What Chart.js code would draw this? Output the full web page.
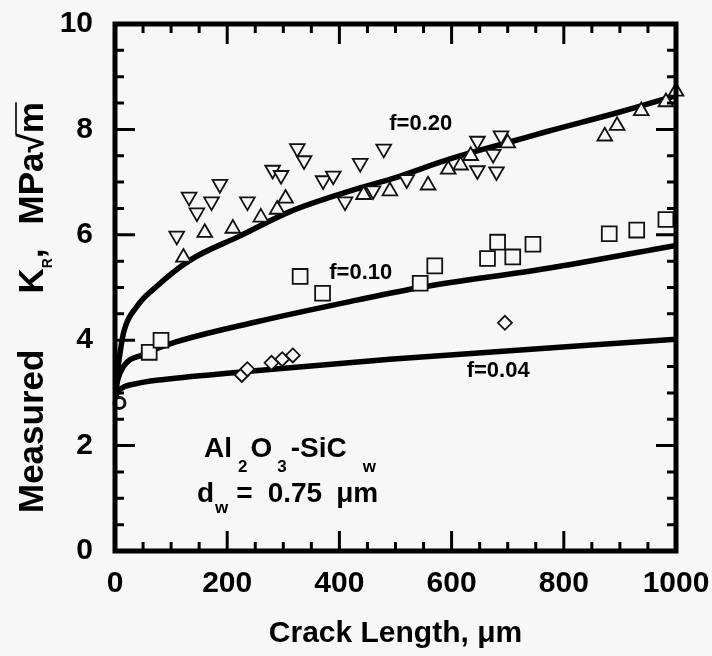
<!DOCTYPE html>
<html>
<head>
<meta charset="utf-8">
<script src="https://cdn.jsdelivr.net/npm/chart.js@4.4.1/dist/chart.umd.min.js"></script>
<style>
  html, body { margin: 0; padding: 0; background: #f7f7f7; }
  #wrap { width: 712px; height: 656px; position: relative; }
</style>
</head>
<body>
<div id="wrap"><canvas id="krChart"></canvas></div>
<script>
"use strict";

// f=0.20 data, upward triangles
const upTriX = [122, 160, 210, 260, 289, 304, 443, 490, 558, 594, 616, 634, 700, 873, 895, 938, 982, 1000];
const upTriY = [5.57, 6.04, 6.12, 6.33, 6.48, 6.69, 6.76, 6.83, 6.94, 7.24, 7.32, 7.50, 7.74, 7.87, 8.07, 8.35, 8.52, 8.72];

// f=0.20 data, downward triangles
const downTriX = [110, 132, 146, 172, 187, 236, 281, 296, 325, 337, 371, 389, 410, 437, 460, 479, 520, 646, 688, 674, 646, 680];
const downTriY = [5.98, 6.72, 6.42, 6.63, 6.96, 6.63, 7.23, 7.13, 7.64, 7.41, 7.03, 7.12, 6.63, 7.36, 6.84, 7.63, 7.05, 7.78, 7.88, 7.53, 7.22, 7.20];

// f=0.10 data, squares
const squareX = [61, 82, 330, 370, 544, 570, 664, 682, 709, 745, 881, 930, 982];
const squareY = [3.77, 4.00, 5.21, 4.89, 5.08, 5.41, 5.55, 5.86, 5.58, 5.82, 6.02, 6.09, 6.29];

// f=0.04 data, diamonds
const diamondX = [226, 236, 279, 298, 317, 695];
const diamondY = [3.34, 3.45, 3.57, 3.64, 3.71, 4.33];

// unreinforced point, circle
const circleX = [8];
const circleY = [2.81];

// model curves
const curve20X = [0, 1, 3, 8, 15, 39, 74, 134, 223, 312, 431, 490, 600, 710, 770, 900, 1000];
const curve20Y = [2.85, 3.10, 3.30, 3.69, 4.13, 4.64, 5.02, 5.52, 5.98, 6.44, 6.87, 7.05, 7.45, 7.78, 7.96, 8.33, 8.64];
const curve10X = [0, 2, 5, 15, 51, 98, 253, 431, 544, 769, 1000];
const curve10Y = [2.85, 3.05, 3.25, 3.50, 3.73, 3.93, 4.35, 4.76, 5.00, 5.36, 5.80];
const curve04X = [0, 3, 12, 40, 74, 229, 490, 1000];
const curve04Y = [2.85, 2.98, 3.09, 3.18, 3.24, 3.40, 3.64, 4.02];

// axis ticks
const xMajorStep = 200, xMinorStep = 50;
const yMajorStep = 2, yMinorStep = 0.5;

const BG = '#f7f7f7';
const FONT = '"Liberation Sans", Arial, Helvetica, sans-serif';
Chart.defaults.font.family = FONT;

function pts(xs, ys) {
  return xs.map((x, i) => ({ x: x, y: ys[i] }));
}

function markerSet(xs, ys, style, radius, extra) {
  return Object.assign({
    data: pts(xs, ys),
    showLine: false,
    pointStyle: style,
    pointRadius: radius,
    pointBorderWidth: 1.8,
    pointBorderColor: '#111',
    pointBackgroundColor: BG,
    clip: false
  }, extra || {});
}

function curveSet(xs, ys) {
  return {
    data: pts(xs, ys),
    showLine: true,
    borderColor: '#000',
    borderWidth: 5.5,
    pointRadius: 0,
    cubicInterpolationMode: 'monotone',
    fill: false
  };
}

// draw pieces of text one after the other (for subscripts)
function drawParts(ctx, x, y, parts) {
  let cx = x;
  let marks = [];
  parts.forEach(p => {
    if (p.gap) { cx += p.gap; return; }
    ctx.font = 'bold ' + p.size + 'px ' + FONT;
    ctx.fillText(p.t, cx, y + (p.dy || 0));
    const w = ctx.measureText(p.t).width;
    marks.push({ start: cx, end: cx + w, p: p });
    cx += w;
  });
  return marks;
}

const decorPlugin = {
  id: 'decor',
  afterDatasetsDraw(chart) {
    const ctx = chart.ctx;
    const a = chart.chartArea;
    const xs = chart.scales.x, ys = chart.scales.y;
    ctx.save();
    ctx.strokeStyle = '#000';
    ctx.fillStyle = '#000';

    // inward ticks on all four sides
    ctx.lineWidth = 3;
    ctx.beginPath();
    for (let v = 0; v <= 1000; v += xMinorStep) {
      const px = xs.getPixelForValue(v);
      const len = v % xMajorStep === 0 ? 20 : 9;
      ctx.moveTo(px, a.bottom); ctx.lineTo(px, a.bottom - len);
      ctx.moveTo(px, a.top); ctx.lineTo(px, a.top + len);
    }
    for (let k = 0; k <= 20; k++) {
      const v = k * yMinorStep;
      const py = ys.getPixelForValue(v);
      const len = (k % (yMajorStep / yMinorStep) === 0) ? 20 : 9;
      ctx.moveTo(a.left, py); ctx.lineTo(a.left + len, py);
      ctx.moveTo(a.right, py); ctx.lineTo(a.right - len, py);
    }
    ctx.stroke();

    // frame
    ctx.lineWidth = 5;
    ctx.strokeRect(a.left, a.top, a.right - a.left, a.bottom - a.top);

    // curve labels
    ctx.font = 'bold 22px ' + FONT;
    ctx.textAlign = 'center';
    ctx.textBaseline = 'middle';
    ctx.fillText('f=0.20', xs.getPixelForValue(545), ys.getPixelForValue(8.1));
    ctx.fillText('f=0.10', xs.getPixelForValue(438), ys.getPixelForValue(5.28));
    ctx.fillText('f=0.04', xs.getPixelForValue(683), ys.getPixelForValue(3.42));

    // material block
    ctx.textAlign = 'left';
    ctx.textBaseline = 'alphabetic';
    drawParts(ctx, 204, 457, [
      { t: 'Al', size: 28 }, { gap: 6 }, { t: '2', size: 17, dy: 15 }, { gap: 3 },
      { t: 'O', size: 28 }, { gap: 5 }, { t: '3', size: 17, dy: 15 }, { gap: 4 },
      { t: '-SiC', size: 28 }, { gap: 16 }, { t: 'w', size: 17, dy: 15 }
    ]);
    drawParts(ctx, 197, 502, [
      { t: 'd', size: 28 }, { gap: 1 }, { t: 'w', size: 17, dy: 11 }, { gap: 8 },
      { t: '=', size: 28 }, { gap: 15 }, { t: '0.75', size: 28 }, { gap: 14 },
      { t: '\u03bcm', size: 28 }
    ]);

    // x title
    ctx.font = 'bold 30px ' + FONT;
    ctx.textAlign = 'center';
    ctx.fillText('Crack Length, \u03bcm', (a.left + a.right) / 2, 642);

    // y title, rotated
    ctx.save();
    ctx.translate(43, 513);
    ctx.rotate(-Math.PI / 2);
    ctx.textAlign = 'left';
    const marks = drawParts(ctx, 0, 0, [
      { t: 'Measured', size: 35 }, { gap: 56 }, { t: 'K', size: 35 },
      { t: 'R', size: 14, dy: 9 }, { t: ',', size: 35 }, { gap: 24 },
      { t: 'MPa\u221a', size: 35 }, { t: 'm', size: 35 }
    ]);
    // overline of the square root
    ctx.font = 'bold 35px ' + FONT;
    const rootTop = ctx.measureText('\u221a').actualBoundingBoxAscent;
    const mMark = marks[marks.length - 1];
    ctx.lineWidth = 1.6;
    ctx.beginPath();
    ctx.moveTo(mMark.start - 1, -rootTop + 1);
    ctx.lineTo(mMark.end, -rootTop + 1);
    ctx.stroke();
    ctx.restore();

    ctx.restore();
  }
};

const ctx = document.getElementById('krChart').getContext('2d');
const krChart = new Chart(ctx, {
  type: 'scatter',
  data: {
    datasets: [
      markerSet(circleX, circleY, 'circle', 5.5, { pointBorderWidth: 3 }),
      markerSet(upTriX, upTriY, 'triangle', 8.5),
      markerSet(downTriX, downTriY, 'triangle', 8.5, { pointRotation: 180 }),
      markerSet(squareX, squareY, 'rect', 10.5),
      markerSet(diamondX, diamondY, 'rectRot', 7),
      curveSet(curve20X, curve20Y),
      curveSet(curve10X, curve10Y),
      curveSet(curve04X, curve04Y)
    ]
  },
  options: {
    responsive: true,
    maintainAspectRatio: false,
    animation: false,
    events: [],
    layout: { padding: { top: 24, right: 36, left: 0, bottom: 0 } },
    plugins: {
      legend: { display: false },
      tooltip: { enabled: false }
    },
    scales: {
      x: {
        type: 'linear',
        min: 0,
        max: 1000,
        grid: { display: false, drawTicks: false },
        border: { display: false },
        ticks: {
          stepSize: xMajorStep,
          maxRotation: 0,
          padding: 15,
          color: '#000',
          font: { size: 30, weight: 'bold' },
          callback: v => String(v)
        },
        afterFit(scale) {
          scale.height = 105;
          scale.paddingLeft = 0;
          scale.paddingRight = 0;
        }
      },
      y: {
        type: 'linear',
        min: 0,
        max: 10,
        grid: { display: false, drawTicks: false },
        border: { display: false },
        ticks: {
          stepSize: yMajorStep,
          padding: 22,
          color: '#000',
          font: { size: 30, weight: 'bold' },
          callback: v => String(v)
        },
        afterFit(scale) {
          scale.width = 115;
          scale.paddingTop = 0;
          scale.paddingBottom = 0;
        }
      }
    }
  },
  plugins: [decorPlugin]
});
</script>
</body>
</html>
